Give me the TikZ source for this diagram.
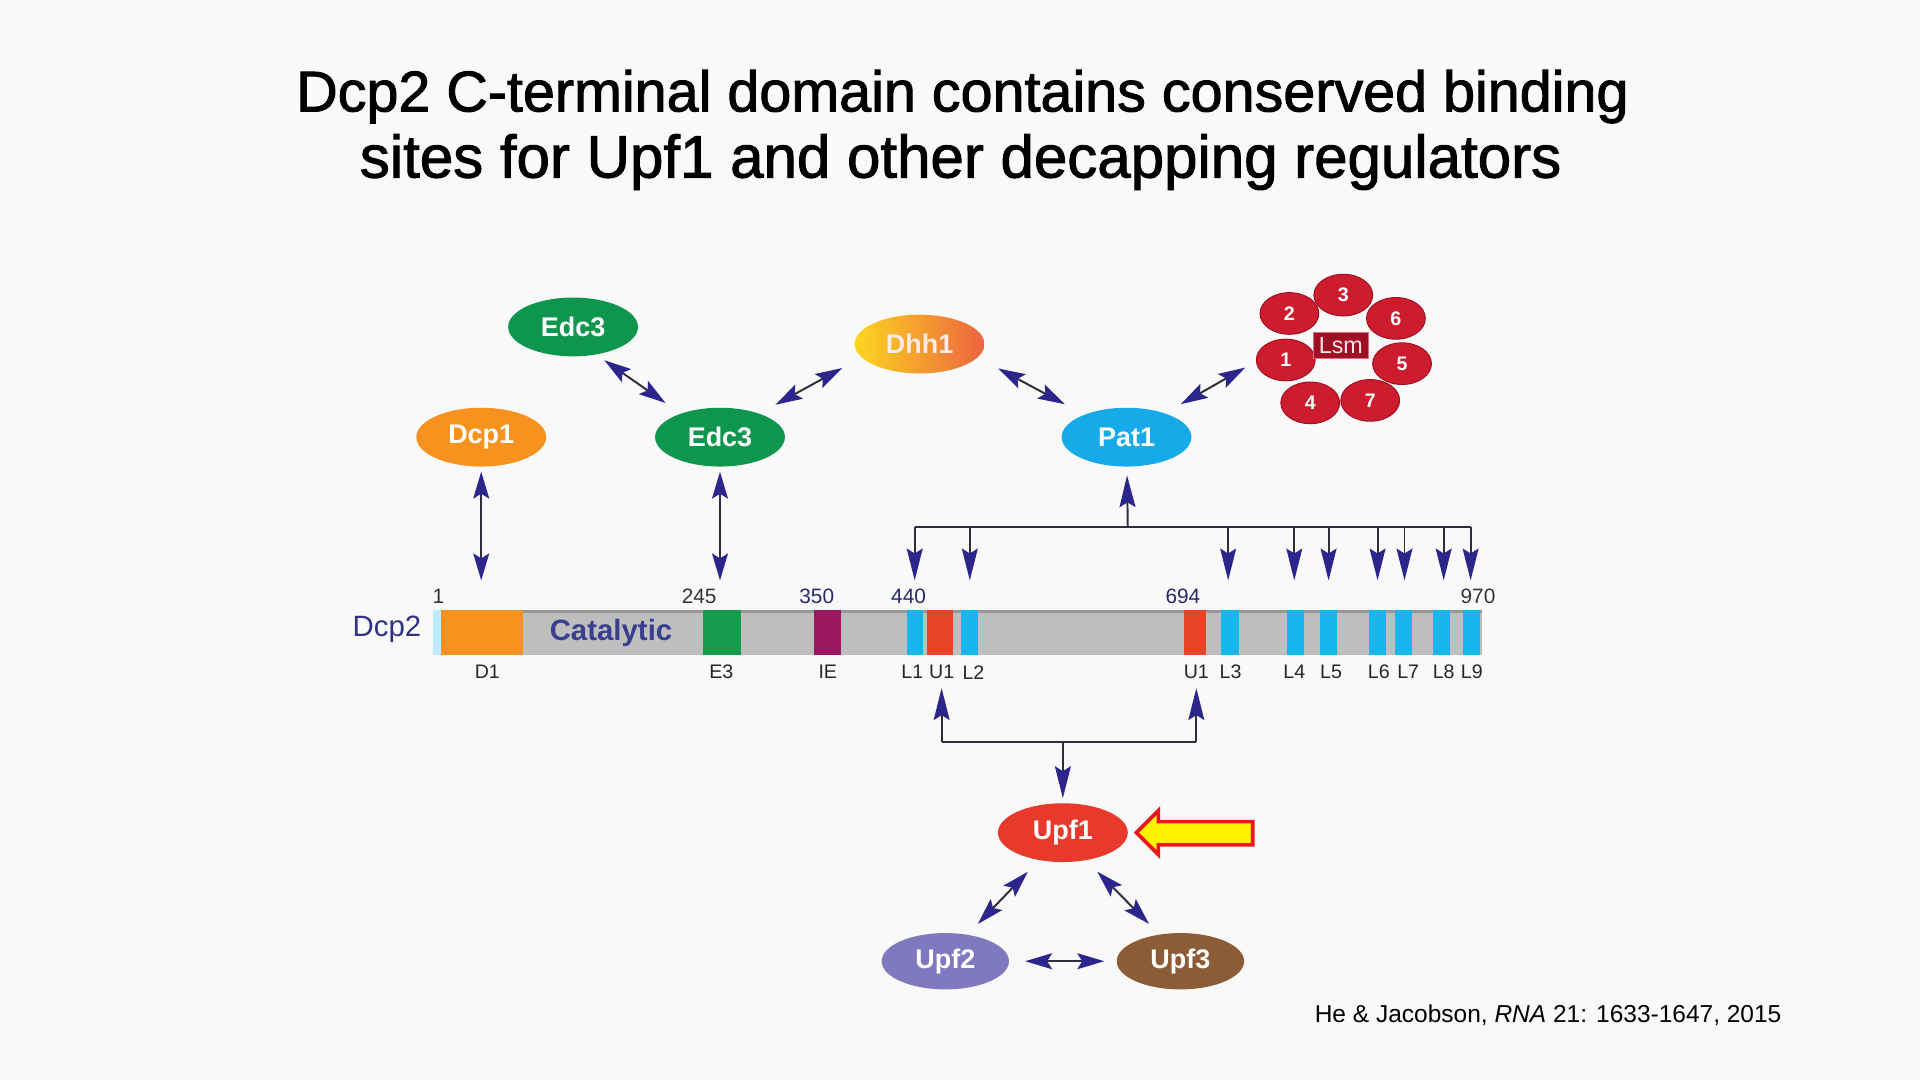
\documentclass[tikz,border=0pt]{standalone}
\usepackage{fontspec}
\setmainfont{Liberation Sans}
\newfontfamily\titlefont[FakeBold=1.6]{Liberation Sans}
\usetikzlibrary{shapes.geometric,arrows.meta}
\definecolor{bg}{RGB}{249,249,249}
\definecolor{edcgreen}{RGB}{14,150,78}
\definecolor{dcporange}{RGB}{247,146,30}
\definecolor{patblue}{RGB}{22,170,232}
\definecolor{dhhyellow}{RGB}{252,214,30}
\definecolor{dhhorange}{RGB}{236,100,64}
\definecolor{lsmred}{RGB}{204,28,46}
\definecolor{lsmdark}{RGB}{160,16,36}
\definecolor{upfred}{RGB}{232,58,44}
\definecolor{upfpurple}{RGB}{128,121,192}
\definecolor{upfbrown}{RGB}{140,92,55}
\definecolor{navyarrow}{RGB}{44,38,140}
\definecolor{linegray}{RGB}{45,45,60}
\definecolor{bargray}{RGB}{190,190,190}
\definecolor{bandcyan}{RGB}{22,182,236}
\definecolor{bandred}{RGB}{232,66,40}
\definecolor{bandgreen}{RGB}{20,155,75}
\definecolor{bandpurple}{RGB}{156,22,96}
\definecolor{dcpnavy}{RGB}{50,50,130}
\definecolor{catnavy}{RGB}{58,62,140}
\definecolor{numnavy}{RGB}{40,40,110}
\definecolor{arrowred}{RGB}{232,24,28}
\begin{document}
\begin{tikzpicture}[x=1pt,y=-1pt,
  prot/.style={ellipse, inner sep=0pt, minimum width=106pt, minimum height=48pt,
    text=white, font=\fontsize{22}{24}\selectfont\bfseries},
  lsmc/.style={ellipse, inner sep=0pt, minimum width=48pt, minimum height=34pt,
    fill=lsmred, draw=lsmdark, line width=0.8pt, text=white,
    font=\fontsize{16}{18}\selectfont\bfseries},
  link/.style={draw=linegray, line width=1.6pt,
    {Stealth[length=22pt,width=13pt,inset=4pt,color=navyarrow]}-{Stealth[length=22pt,width=13pt,inset=4pt,color=navyarrow]}},
  onearrow/.style={draw=linegray, line width=1.6pt,
    -{Stealth[length=26pt,width=13pt,inset=4pt,color=navyarrow]}},
  plainline/.style={draw=linegray, line width=1.6pt},
  numlab/.style={font=\fontsize{17}{19}\selectfont, text=numnavy, inner sep=0pt},
  domlab/.style={font=\fontsize{16}{18}\selectfont, text=black!85, inner sep=0pt}
]
\useasboundingbox (0,0) rectangle (1568,882);
\fill[bg] (0,0) rectangle (1568,882);

% Title
\node[anchor=base, inner sep=0pt] (title1) at (786,91)
  {\resizebox{1088pt}{!}{\titlefont Dcp2 C-terminal domain contains conserved binding}};
\node[anchor=base, inner sep=0pt] (title2) at (784.5,145)
  {\resizebox{981pt}{!}{\titlefont sites for Upf1 and other decapping regulators}};

% Protein nodes
\node[prot, fill=edcgreen] (edcA) at (468,267) {Edc3};
\node[prot, left color=dhhyellow, right color=dhhorange, text={rgb,255:red,255;green,236;blue,230}] (dhh) at (751,281) {Dhh1};
\node[prot, fill=dcporange] (dcp1) at (393,357) {Dcp1};
\node[prot, fill=edcgreen] (edcB) at (588,357) {Edc3};
\node[prot, fill=patblue] (pat) at (920,357) {Pat1};
\node[prot, fill=upfred] (upf1) at (868,680) {Upf1};
\node[prot, fill=upfpurple, minimum width=104pt, minimum height=46pt] (upf2) at (772,785) {Upf2};
\node[prot, fill=upfbrown, minimum width=104pt, minimum height=46pt] (upf3) at (964,785) {Upf3};

% Lsm ring
\node[lsmc] (lsm4) at (1070,329) {4};
\node[lsmc] (lsm7) at (1119,327) {7};
\node[lsmc] (lsm1) at (1050,294) {1};
\node[lsmc] (lsm2) at (1053,256) {2};
\node[lsmc] (lsm3) at (1097,241) {3};
\node[lsmc] (lsm6) at (1140,260) {6};
\node[lsmc] (lsm5) at (1145,297) {5};
\node[rectangle, inner sep=0pt, minimum width=45pt, minimum height=21pt,
  fill=lsmdark, draw={rgb,255:red,225;green,110;blue,125}, line width=0.8pt,
  text={rgb,255:red,255;green,232;blue,232}, font=\fontsize{19}{21}\selectfont] (lsm) at (1095,282) {Lsm};

% Interaction arrows among proteins
\draw[link, shorten <=8pt, shorten >=15pt] (edcA.310) -- (edcB.149);
\draw[link, shorten <=15pt, shorten >=18pt] (edcB.31) -- (dhh.193);
\draw[link, shorten <=19pt, shorten >=18pt] (dhh.347) -- (pat.152);
\draw[link, shorten <=15pt, shorten >=10pt] (pat.32) -- (lsm1.183);
\draw[link, shorten <=13pt, shorten >=12pt] (upf1.229) -- (upf2.50);
\draw[link, shorten <=13pt, shorten >=12pt] (upf1.310) -- (upf3.128);
\draw[link, shorten <=13pt, shorten >=10pt] (upf2.east) -- (upf3.west);

% Dcp2 bar
\node[font=\fontsize{24}{26}\selectfont, text=dcpnavy, inner sep=0pt] (dcp2lab) at (316,514) {Dcp2};
\fill[bargray] (354,498) rectangle (1210,535);
\fill[bargray!80!black] (354,498) rectangle (1210,500.5);
\fill[cyan!25] (354,498) rectangle (360,535);
\fill[dcporange] (360,498) rectangle (427,535);
\fill[bandgreen] (574,498) rectangle (605,535);
\fill[bandpurple] (665,498) rectangle (687,535);
\foreach \a/\b in {741/754, 785/799, 997/1012, 1051/1065, 1078/1092, 1118/1132, 1139/1153, 1170/1184, 1195/1209}
  \fill[bandcyan] (\a,498) rectangle (\b,535);
\foreach \a/\b in {757/778, 967/985}
  \fill[bandred] (\a,498) rectangle (\b,535);
\node[font=\fontsize{24}{26}\selectfont\bfseries, text=catnavy, inner sep=0pt] (catlab) at (499,517) {Catalytic};

% residue numbers
\node[numlab, text=black!80] (n1) at (358,487) {1};
\node[numlab, text=black!80] (n245) at (571,487) {245};
\node[numlab] (n350) at (667,487) {350};
\node[numlab] (n440) at (742,487) {440};
\node[numlab] (n694) at (966,487) {694};
\node[numlab, text=black!80] (n970) at (1207,487) {970};

% domain labels
\foreach \x/\t/\n in {398/D1/d1, 589/E3/e3, 676/IE/ie, 745/L1/l1, 769/U1/u1a, 795/L2/l2, 977/U1/u1b, 1005/L3/l3, 1057/L4/l4, 1087/L5/l5, 1126/L6/l6, 1150/L7/l7, 1179/L8/l8, 1202/L9/l9}
  \node[domlab] (lab\n) at (\x,549) {\t};

% Dcp1 and Edc3 to bar
\coordinate (dcp1site) at (393,474);
\coordinate (edc3site) at (588,474);
\draw[link, shorten <=4pt] (dcp1) -- (dcp1site);
\draw[link, shorten <=4pt] (edcB) -- (edc3site);

% Pat1 tree
\coordinate (patjoin) at (921,430);
\coordinate (patL) at (747,430);
\coordinate (patR) at (1201,430);
\draw[plainline] (patL) -- (patR);
\draw[onearrow, shorten >=7pt] (patjoin) -- (pat);
\foreach \x in {747, 792, 1003, 1057, 1085, 1125, 1147, 1179, 1201}{
  \coordinate (ptop\x) at (\x,430);
  \coordinate (pbot\x) at (\x,474);
  \draw[onearrow] (ptop\x) -- (pbot\x);
}

% Upf1 tree
\coordinate (ujoin) at (868,606);
\coordinate (uL) at (769,606);
\coordinate (uR) at (977,606);
\coordinate (uLtip) at (769,562);
\coordinate (uRtip) at (977,562);
\draw[plainline] (uL) -- (uR);
\draw[onearrow] (uL) -- (uLtip);
\draw[onearrow] (uR) -- (uRtip);
\draw[onearrow, shorten >=4pt] (ujoin) -- (upf1);

% highlight arrow
\draw[fill=yellow, draw=arrowred, line width=3pt, line join=miter]
  (928,680) -- (946,662) -- (946,671) -- (1023,671) -- (1023,690) -- (946,690) -- (946,698) -- cycle;

% citation
\node[anchor=base east, inner sep=0pt] (cite) at (1455,835)
  {\resizebox{381pt}{!}{He \& Jacobson, \textit{RNA} 21: 1633-1647, 2015}};
\end{tikzpicture}
\end{document}
